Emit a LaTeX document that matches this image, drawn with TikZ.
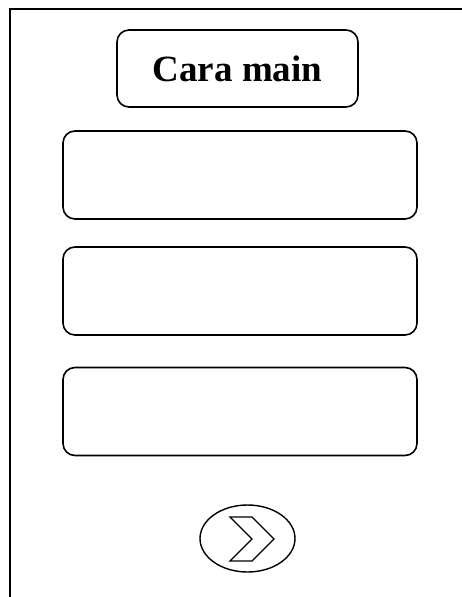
\documentclass[tikz,border=0pt]{standalone}
\usepackage{fontspec}
\setmainfont{Liberation Serif}
\usetikzlibrary{shapes.geometric}
\begin{document}
\begin{tikzpicture}[
  x=1pt, y=-1pt,
  menubox/.style={draw, rounded corners=12pt, line width=1.6pt, minimum width=354pt, minimum height=88pt},
  titlebox/.style={draw, rounded corners=12pt, line width=1.6pt, minimum width=241pt, minimum height=77pt, font=\fontsize{37}{40}\selectfont\bfseries},
  nextbtn/.style={draw, ellipse, line width=1.4pt, minimum width=95pt, minimum height=67pt}
]
\useasboundingbox (0,0) rectangle (462,597);
% frame
\draw[line width=2.4pt] (10,597) -- (10,9) -- (462,9);
\node[titlebox] (title) at (237.5,68.5) {Cara main};
\node[menubox] (opt1) at (240,175) {};
\node[menubox] (opt2) at (240,291) {};
\node[menubox] (opt3) at (240,411.5) {};
\node[nextbtn] (next) at (247.5,538.5) {};
\draw[line width=1.4pt, shift={(next.center)}]
  (-17.5,-21.5) -- (4.5,-21.5) -- (26.5,0.5) -- (4.5,22.5) -- (-17.5,22.5) -- (4.5,0.5) -- cycle;
\end{tikzpicture}
\end{document}
